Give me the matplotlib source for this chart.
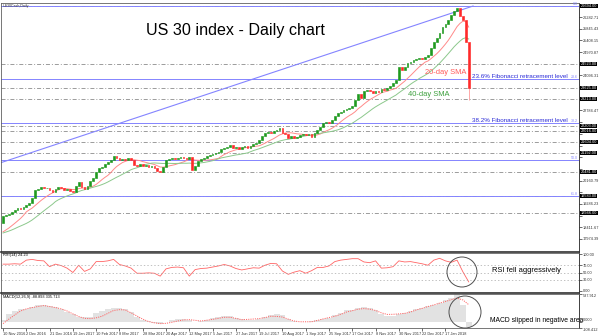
import matplotlib
matplotlib.use('Agg')
import matplotlib.pyplot as plt
from matplotlib.patches import Ellipse
import numpy as np
import pandas as pd

plt.rcParams['font.family'] = ['Liberation Sans', 'DejaVu Sans']
plt.rcParams['lines.scale_dashes'] = False

# US30 closes, one value per 2 sessions
bar_days = 2
warmup_closes = [18050, 18160, 18200, 18150, 18120, 18080, 18170, 18200, 18230, 18140,
                 18130, 18150, 18190, 18140, 18170, 18220, 18160, 18050, 17900, 18580]
closes = [18834, 18872, 18909, 18984, 19059, 19134, 19096, 19171, 19246, 19321,
          19508, 19807, 19845, 19920, 19882, 19900, 19807, 19733, 19845, 19920,
          19882, 19807, 19845, 19770, 19733, 19957, 20107, 19920, 19845, 19957,
          20144, 20256, 20481, 20631, 20668, 20780, 20855, 20930, 21080, 21005,
          20930, 20967, 20930, 21005, 20930, 20743, 20705, 20780, 20705, 20743,
          20668, 20705, 20631, 20518, 20481, 20668, 20930, 20967, 21005, 20967,
          21005, 21042, 21005, 20967, 21042, 20556, 20705, 20892, 20967, 21005,
          21080, 21117, 21154, 21192, 21229, 21341, 21379, 21416, 21491, 21379,
          21416, 21341, 21416, 21454, 21379, 21454, 21529, 21566, 21678, 21828,
          21941, 21978, 21941, 22015, 22053, 22128, 21941, 21903, 21753, 21828,
          21753, 21791, 21866, 21903, 21866, 21903, 21791, 21941, 22053, 22165,
          22315, 22352, 22330, 22427, 22577, 22689, 22727, 22802, 22839, 22876,
          22951, 23176, 23401, 23250, 23513, 23550, 23513, 23438, 23513, 23475,
          23588, 23550, 23625, 23700, 23812, 23925, 24411, 24299, 24411, 24561,
          24598, 24673, 24711, 24748, 24720, 24785, 24860, 25122, 25347, 25497,
          25684, 25908, 26021, 26170, 26358, 26507, 26620, 26320, 26170, 25347,
          23625]
last_low = 23180

date_labels = ['10 Nov 2016', '2 Dec 2016', '21 Dec 2016', '19 Jan 2017', '10 Feb 2017',
               '8 Mar 2017', '28 Mar 2017', '20 Apr 2017', '12 May 2017', '5 Jun 2017',
               '27 Jun 2017', '19 Jul 2017', '10 Aug 2017', '1 Sep 2017', '25 Sep 2017',
               '17 Oct 2017', '8 Nov 2017', '30 Nov 2017', '22 Dec 2017', '17 Jan 2018']
date_bars = list(range(0, 160, 8))

price_ticks = [26282.71, 25845.43, 25408.15, 24970.87, 24533.59, 24096.31, 23659.03,
               23221.75, 22784.47, 22347.19, 21909.91, 21472.63, 21035.35, 20598.07,
               20160.79, 19723.51, 19286.23, 18848.95, 18411.67, 17974.39]

# horizontal support / resistance lines
level_prices = [26694.0, 24523.0, 23625.0, 23213.0, 22203.0, 22016.0, 21604.0,
                21192.0, 20481.0, 19583.0, 18946.0]

fib_high = 26694
fib_low = 15190
fib_ratios = [0.0, 0.236, 0.382, 0.5, 0.618]

trend_bars = [-1.0, 161.5]
trend_prices = [20820, 26694]

# RSI(14) and MACD(12,26,9), one value per 2 bars
ind_bars = list(range(0, 161, 2))
rsi = [73, 73, 74, 73, 84, 86, 83, 82, 66, 73,
       69, 62, 50, 70, 53, 60, 80, 80, 82, 86,
       72, 68, 62, 48, 48, 49, 48, 40, 60, 64,
       65, 63, 40, 58, 61, 62, 65, 68, 72, 68,
       61, 57, 60, 63, 62, 70, 75, 74, 54, 45,
       51, 55, 48, 55, 64, 64, 68, 80, 84, 86,
       88, 88, 79, 77, 82, 62, 63, 66, 82, 79,
       80, 77, 74, 70, 84, 89, 82, 78, 84, 52,
       24.23]
macd_hist = [40, 150, 210, 255, 262, 290, 320, 325, 310, 285,
             245, 200, 150, 100, 92, 98, 170, 215, 255, 270,
             280, 260, 200, 110, 50, 20, -15, -25, 5, 35,
             70, 68, 48, 5, 30, 50, 75, 100, 112, 115,
             90, 55, 48, 52, 65, 95, 140, 155, 145, 70,
             25, 5, -3, 20, 35, 60, 75, 140, 180, 225,
             240, 270, 285, 270, 230, 150, 115, 118, 150, 175,
             215, 245, 280, 305, 330, 375, 415, 470, 537.912, 320,
             -88.893]
macd_signal = [-25, 60, 140, 215, 255, 280, 300, 318, 300, 280,
               255, 215, 160, 110, 75, 70, 85, 115, 170, 225,
               240, 235, 180, 120, 60, 15, -10, -25, -20, 0,
               25, 45, 50, 38, 25, 40, 55, 75, 95, 95,
               75, 50, 55, 62, 70, 90, 115, 112, 100, 60,
               25, 10, 10, 10, 35, 65, 90, 115, 150, 195,
               220, 250, 260, 250, 225, 180, 150, 152, 160, 170,
               195, 235, 265, 300, 330, 365, 395, 430, 460, 425,
               335.713]
macd_scale = [537.912, 0.0, -108.412]

GREEN = '#1f9a1f'
RED = '#ff2a2a'
FIB = '#8484ff'
FIBTXT = '#2b2bd6'
GREY = '#8c8c8c'
DASHDOT = (0, (2.9, 1.4, 0.7, 1.4))
SMALL = 2.8

W, H = 600, 336
fig = plt.figure(figsize=(W / 100, H / 100), dpi=100)


def box(top, bottom):
    return [1 / W, 1 - bottom / H, 578 / W, (bottom - top) / H]


ax = fig.add_axes(box(3, 251.5))
ax_rsi = fig.add_axes(box(252.5, 292.5), sharex=ax)
ax_macd = fig.add_axes(box(294, 328), sharex=ax)

ax.set_ylim(17505, 26807)
ax.set_xlim(-0.7, 197.9)

# candles
c = np.array(closes, dtype=float)
o = np.r_[warmup_closes[-1], c[:-1]]
x = np.arange(len(c))
up = c >= o
ax.bar(x[up], (c - o)[up], bottom=o[up], width=0.6, color=GREEN, edgecolor=GREEN, linewidth=0.45, zorder=4)
ax.bar(x[~up], (c - o)[~up], bottom=o[~up], width=0.6, color=RED, edgecolor=RED, linewidth=0.45, zorder=4)
ax.vlines(x[-1], last_low, c[-1], color='#ff9a9a', lw=0.6, zorder=3)

# moving averages
allc = pd.Series(warmup_closes + closes, dtype=float)
n0 = len(warmup_closes)
sma20 = allc.rolling(20 // bar_days).mean().iloc[n0:].values
sma40 = allc.rolling(40 // bar_days).mean().iloc[n0:].values
ax.plot(x, sma20, color='#ff8a8a', lw=0.7, zorder=3)
ax.plot(x, sma40, color='#8cc88c', lw=0.7, zorder=3)
ax.text(145, 24224, '20-day SMA', color='#ff5a5a', fontsize=5.4, va='center', ha='left', zorder=7)
ax.text(139, 23400, '40-day SMA', color='#3ea03e', fontsize=5.4, va='center', ha='left', zorder=7)

# horizontal levels with price boxes on the axis
for lv in level_prices:
    ax.axhline(lv, color=GREY, lw=0.6, ls=DASHDOT, zorder=1)
    ax.text(1.003, lv, f'{lv:.2f}', transform=ax.get_yaxis_transform(), fontsize=SMALL,
            color='white', va='center', ha='left', clip_on=False, zorder=6,
            bbox=dict(boxstyle='square,pad=0.12', fc='black', ec='none'))

# fibonacci retracement
for r in fib_ratios:
    lv = fib_high - r * (fib_high - fib_low)
    ax.axhline(lv, color=FIB, lw=0.7, zorder=2)
    ax.text(197.4, lv, f'{r * 100:.1f}', color=FIB, fontsize=2.6, ha='right', va='bottom')
for r in (0.236, 0.382):
    lv = fib_high - r * (fib_high - fib_low)
    ax.text(194.2, lv, f'{r * 100:.1f}% Fibonacci retracement level', color=FIBTXT,
            fontsize=4.5, ha='right', va='bottom', zorder=7)

ax.plot(trend_bars, trend_prices, color=FIB, lw=0.8, zorder=2)

# price scale: a boxed level hides the regular label under it
px_per_pt = (251.5 - 3) / (26807 - 17505)
shown = [v for v in price_ticks if min(abs(v - lv) for lv in level_prices) * px_per_pt > 4.5]
ax.set_yticks(price_ticks)
ax.set_yticklabels([f'{v:.2f}' if v in shown else '' for v in price_ticks])

ax.text(0.003, 0.997, 'US30Cash,Daily', transform=ax.transAxes, fontsize=2.6, va='top', ha='left', color='#303030')
fig.text(235 / W, 1 - 30 / H, 'US 30 index - Daily chart', fontsize=11.6, ha='center', va='center')

# RSI panel
ax_rsi.plot(ind_bars, rsi, color='#ff6464', lw=0.6)
for lv in (70, 50, 30):
    ax_rsi.axhline(lv, color='#a8a8a8', lw=0.5, ls=(0, (1, 1.5)))
ax_rsi.set_ylim(-5, 105)
ax_rsi.set_yticks([100, 70, 50, 30, 0])
ax_rsi.set_yticklabels(['100.00', '70.00', '50.00', '30.00', '0.00'])
ax_rsi.text(0.003, 0.985, f'RSI(14) {rsi[-1]:.2f}', transform=ax_rsi.transAxes, fontsize=SMALL, va='top', ha='left')

# MACD panel
ax_macd.bar(ind_bars, macd_hist, width=2.0, color='#e2e2e2', linewidth=0)
ax_macd.plot(ind_bars, macd_signal, color='#ff6464', lw=0.7, ls=(0, (0.8, 0.8)))
ax_macd.set_ylim(macd_scale[2], macd_scale[0])
ax_macd.set_yticks(macd_scale)
ax_macd.set_yticklabels([])
for v, va in zip(macd_scale, ('top', 'bottom', 'top')):
    ax_macd.text(1.006, v, f'{v:.3f}', transform=ax_macd.get_yaxis_transform(), fontsize=SMALL,
                 color='#303030', va=va, ha='left', clip_on=False)
ax_macd.text(0.003, 0.98, f'MACD(12,26,9) {macd_hist[-1]:.3f} {macd_signal[-1]:.3f}',
             transform=ax_macd.transAxes, fontsize=SMALL, va='top', ha='left')

ax_macd.set_xticks(date_bars)
ax_macd.set_xticklabels(date_labels)
for lbl in ax_macd.get_xticklabels():
    lbl.set_ha('left')

for a in (ax, ax_rsi, ax_macd):
    a.set_facecolor('white')
    a.yaxis.tick_right()
    a.tick_params(axis='both', length=2, width=0.5, labelsize=SMALL, pad=1, colors='#303030')
    for s in a.spines.values():
        s.set_color('#606060')
        s.set_linewidth(0.6)
    a.spines['right'].set_color('#202020')
for a in (ax, ax_rsi):
    a.tick_params(axis='x', bottom=False, labelbottom=False)
    a.spines['bottom'].set_linewidth(1.2)
    a.spines['bottom'].set_color('#303030')

# callouts
fig.add_artist(Ellipse((462 / W, 1 - 272 / H), 30 / W, 30 / H, fill=False, ec='#505050', lw=0.7))
fig.add_artist(Ellipse((465 / W, 1 - 312 / H), 32 / W, 32 / H, fill=False, ec='#505050', lw=0.7))
fig.text(492 / W, 1 - 270 / H, 'RSI fell aggressively', fontsize=5.4, va='center', ha='left')
fig.text(490 / W, 1 - 320 / H, 'MACD slipped in negative area', fontsize=4.9, va='center', ha='left')

fig.savefig('out.png', dpi=100)
